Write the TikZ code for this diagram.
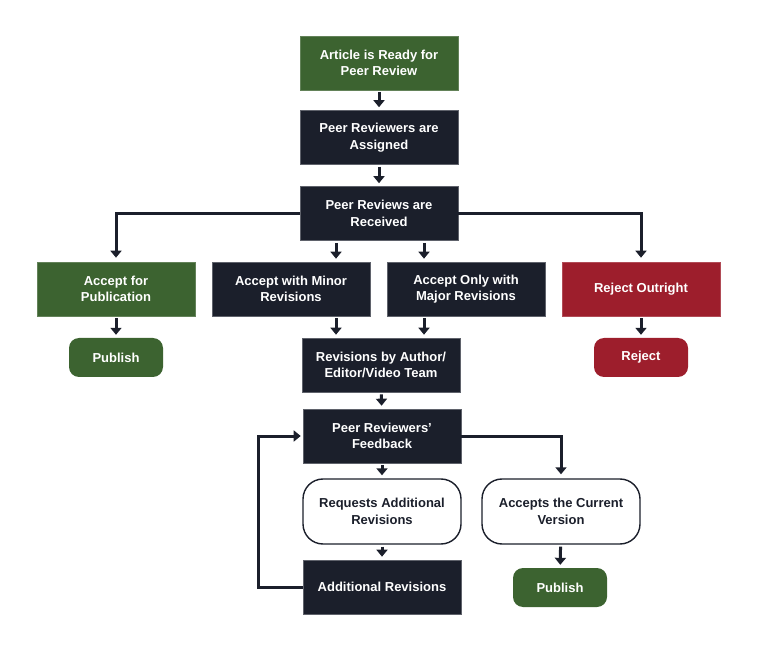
\documentclass[tikz,border=0pt]{standalone}
\usepackage{fontspec}
\setmainfont{Liberation Sans}
\usepackage{tikz}
\usetikzlibrary{arrows.meta}

\definecolor{navy}{HTML}{1B1F2B}
\definecolor{leaf}{HTML}{3C6330}
\definecolor{wine}{HTML}{9D1E2C}

\begin{document}
\begin{tikzpicture}[
  x=1pt, y=-1pt,
  font=\fontsize{13}{16.5}\selectfont\bfseries,
  stepbox/.style={rectangle, fill=navy, draw=navy!70!white, line width=0.6pt, text=white,
    minimum width=158pt, minimum height=54pt, align=center, inner sep=2pt},
  greenbox/.style={stepbox, fill=leaf, draw=leaf!80!white},
  redbox/.style={stepbox, fill=wine, draw=wine!80!white},
  endbox/.style={rectangle, rounded corners=10pt, text=white, minimum width=94pt,
    minimum height=39pt, align=center},
  choicebox/.style={rectangle, rounded corners=20pt, fill=white, draw=navy, line width=1.4pt,
    text=navy, minimum width=158pt, minimum height=65pt, align=center},
  arr/.style={draw=navy, line width=3pt, -{Triangle[width=11pt,length=7pt]}},
  sharr/.style={arr, shorten <=2pt, shorten >=3pt}
]
\useasboundingbox (0,0) rectangle (758,652);

% ---- Main column ----
\node[greenbox] (ready) at (379,63) {Article is Ready for\\Peer Review};
\node[stepbox] (assign) at (379,137.5) {Peer Reviewers are\\Assigned};
\node[stepbox] (recv) at (379,213.5) {Peer Reviews are\\Received};

% ---- Decision row ----
\node[greenbox] (accpub) at (116,289) {Accept for\\Publication};
\node[stepbox] (minor) at (291,289) {Accept with Minor\\Revisions};
\node[stepbox] (major) at (466,289) {Accept Only with\\Major Revisions};
\node[redbox] (outright) at (641,289) {Reject Outright};

% ---- Outcomes ----
\node[endbox, fill=leaf] (pubone) at (116,357.5) {Publish};
\node[endbox, fill=wine] (reject) at (641,357.5) {Reject};

% ---- Revision loop ----
\node[stepbox] (revise) at (381,365) {Revisions by Author/\\Editor/Video Team};
\node[stepbox] (feedback) at (382,436) {Peer Reviewers'\\Feedback};
\node[choicebox] (request) at (382,511.5) {Requests Additional\\Revisions};
\node[choicebox] (acceptcur) at (561,511.5) {Accepts the Current\\Version};
\node[stepbox] (addrev) at (382,587) {Additional Revisions};
\node[endbox, fill=leaf] (pubtwo) at (560,587.5) {Publish};

% ---- Connectors ----
\draw[sharr] (ready) -- (assign);
\draw[sharr] (assign) -- (recv);
\draw[arr, shorten >=4pt] (recv.west) -| (accpub.north);
\draw[arr, shorten >=4pt] (recv.east) -| (outright.north);
\draw[sharr] ([xshift=-43pt]recv.south) -- ([xshift=-43pt]recv.south |- minor.north);
\draw[sharr] ([xshift=45pt]recv.south) -- ([xshift=45pt]recv.south |- major.north);
\draw[sharr] (accpub) -- (pubone);
\draw[sharr] (outright) -- (reject);
\draw[sharr] ([xshift=-45pt]revise.north |- minor.south) -- ([xshift=-45pt]revise.north);
\draw[sharr] ([xshift=43pt]revise.north |- major.south) -- ([xshift=43pt]revise.north);
\draw[sharr] (revise) -- (feedback);
\draw[sharr] (feedback) -- (request);
\draw[sharr] (request) -- (addrev);
\draw[arr, shorten >=4pt] (feedback.east) -| (acceptcur.north);
\draw[sharr] (acceptcur) -- (pubtwo);
\draw[arr, shorten >=2pt] (addrev.west) -- ++(-44pt,0) |- (feedback.west);

\end{tikzpicture}
\end{document}
